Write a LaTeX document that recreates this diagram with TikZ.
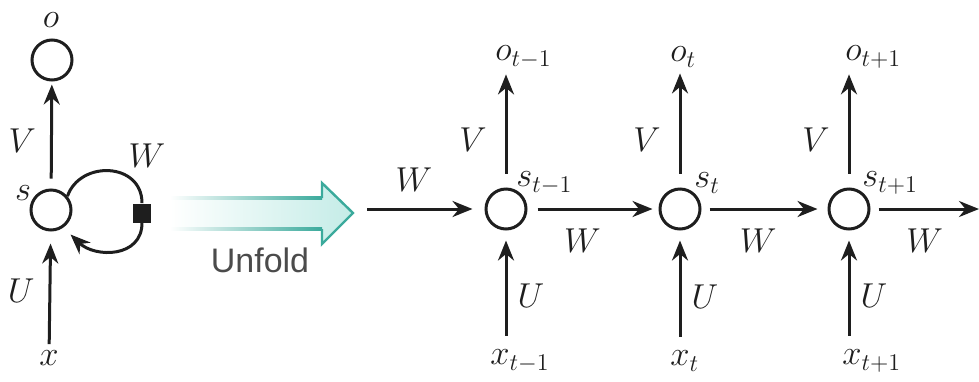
\documentclass[tikz,border=0pt]{standalone}
\usepackage{fontspec}
\newfontfamily\unfoldfont{Liberation Sans}
\usepackage{tikz}
\usetikzlibrary{arrows.meta,positioning}
\definecolor{RNNTeal}{HTML}{3BAA9C}
\definecolor{RNNAqua}{HTML}{C4ECE7}
\definecolor{RNNInk}{HTML}{1E1E1E}

\begin{document}
\begin{tikzpicture}[
    x=0.5pt, y=-0.5pt,
    font=\fontsize{17.28}{20}\selectfont,
    unit/.style={circle, draw=RNNInk, line width=1.5pt, minimum size=20pt, inner sep=0pt},
    lbl/.style={inner sep=0pt, text=RNNInk},
    arrow/.style={-{Stealth[length=10pt,width=8pt]}, line width=1.5pt, draw=RNNInk},
  ]
    \useasboundingbox (0,0) rectangle (979,381);

    % ---- folded network ----
    \node[unit] (s) at (51,210) {};
    \node[unit] (o) at (52,60) {};
    \node[lbl] (olbl) at (51,20) {$o$};
    \node[lbl] (slbl) at (23,193) {$s$};
    \node[lbl] (x) at (49,358) {$x$};
    \node[fill=RNNInk, minimum width=9pt, minimum height=9.5pt, inner sep=0pt] (sq) at (142,213) {};
    \node[lbl] (wloop) at (147,156) {$W$};

    \draw[arrow, shorten <=5pt, shorten >=1.5pt] (s) -- (o) node[lbl, pos=0.45, left=7pt] {$V$};
    \draw[arrow, shorten <=3pt, shorten >=6pt] (x) -- (s) node[lbl, midway, left=7pt] {$U$};
    \draw[line width=1.5pt, RNNInk] (s.40) .. controls (80,160) and (142,162) .. (sq.north);
    \draw[arrow, shorten >=5pt] (sq.south) .. controls (142,258) and (95,258) .. (s.-55);

    % ---- unfold arrow ----
    \shade[left color=white, right color=RNNAqua] (170,198) -- (322,198) -- (322,183) -- (353,213)
      -- (322,244) -- (322,229) -- (170,229) -- cycle;
    \shade[left color=white, right color=RNNTeal] (170,196.5) rectangle (322,199.5);
    \shade[left color=white, right color=RNNTeal] (170,227.5) rectangle (322,230.5);
    \draw[RNNTeal, line width=1.2pt] (322,198) -- (322,183) -- (353,213) -- (322,244) -- (322,229);
    \node[font=\unfoldfont\fontsize{17}{20}\selectfont, text=RNNInk!80] (unfold) at (260,260) {Unfold};

    % ---- unfolded cells ----
    \node[unit] (s1) at (506,209) {};
    \node[lbl, anchor=west] (o1) at (495,57) {$o_{t-1}$};
    \node[lbl, anchor=west] (s1lbl) at (516,183) {$s_{t-1}$};
    \node[lbl, anchor=west] (x1) at (490,361) {$x_{t-1}$};

    \node[unit] (s2) at (680,209) {};
    \node[lbl, anchor=west] (o2) at (670,57) {$o_t$};
    \node[lbl, anchor=west] (s2lbl) at (694,183) {$s_t$};
    \node[lbl, anchor=west] (x2) at (670,361) {$x_t$};

    \node[unit] (s3) at (849,209) {};
    \node[lbl, anchor=west] (o3) at (845,57) {$o_{t+1}$};
    \node[lbl, anchor=west] (s3lbl) at (862,183) {$s_{t+1}$};
    \node[lbl, anchor=west] (x3) at (842,361) {$x_{t+1}$};

    \coordinate (in) at (367,209);
    \coordinate (out) at (979,209);

    % ---- arrows ----
    \draw[arrow, shorten <=7pt, shorten >=3pt] (s1) -- (s1 |- o1.south) node[lbl, pos=0.4, left=9pt] {$V$};
    \draw[arrow, shorten <=7pt, shorten >=3pt] (s2) -- (s2 |- o2.south) node[lbl, pos=0.4, left=9pt] {$V$};
    \draw[arrow, shorten <=7pt, shorten >=3pt] (s3) -- (s3 |- o3.south) node[lbl, pos=0.4, left=9pt] {$V$};

    \draw[arrow, shorten <=7pt, shorten >=5pt] (x1.north -| s1) -- (s1) node[lbl, pos=0.45, right=5pt] {$U$};
    \draw[arrow, shorten <=7pt, shorten >=5pt] (x2.north -| s2) -- (s2) node[lbl, pos=0.45, right=5pt] {$U$};
    \draw[arrow, shorten <=7pt, shorten >=5pt] (x3.north -| s3) -- (s3) node[lbl, pos=0.45, right=5pt] {$U$};

    \draw[arrow, shorten >=6pt] (in) -- (s1) node[lbl, pos=0.4, above=8pt] {$W$};
    \draw[arrow, shorten <=5pt, shorten >=3pt] (s1) -- (s2) node[lbl, pos=0.42, below=9pt] {$W$};
    \draw[arrow, shorten <=4pt, shorten >=5pt] (s2) -- (s3) node[lbl, pos=0.45, below=9pt] {$W$};
    \draw[arrow, shorten <=4pt] (s3) -- (out) node[lbl, pos=0.5, below=9pt] {$W$};
  \end{tikzpicture}
\end{document}
